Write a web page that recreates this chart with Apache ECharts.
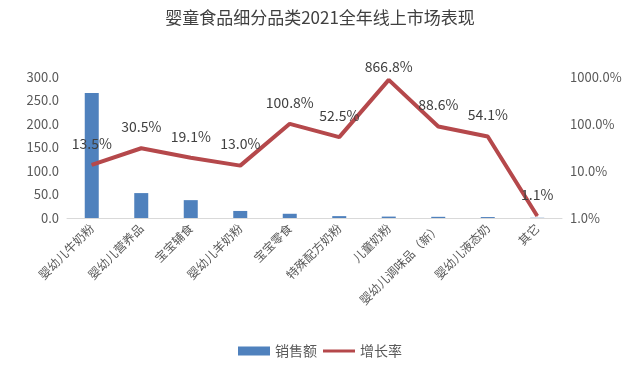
<!DOCTYPE html>
<html>
<head>
<meta charset="utf-8">
<script src="https://cdn.jsdelivr.net/npm/echarts@6/dist/echarts.min.js"></script>
<style>html,body{margin:0;padding:0;background:#fff}#c{width:640px;height:385px}</style>
</head>
<body>
<div id="c"></div>
<script>
const categories = ['婴幼儿牛奶粉','婴幼儿营养品','宝宝辅食','婴幼儿羊奶粉','宝宝零食','特殊配方奶粉','儿童奶粉','婴幼儿调味品（新）','婴幼儿液态奶','其它'];
const sales = [266, 53, 38, 15, 9, 4, 3, 2.5, 2, 0.5];
const growth = [13.5, 30.5, 19.1, 13.0, 100.8, 52.5, 866.8, 88.6, 54.1, 1.1];
const leftTicks = {min: 0, max: 300, interval: 50};
const rightTicks = {min: 1, max: 1000};

const chart = echarts.init(document.getElementById('c'));
const labelColor = '#595959';
const lineColor = '#b5484b';
const maxGrowth = Math.max(...growth);
const growthData = growth.map(v => v === maxGrowth ? {value: v, label: {distance: 6}} : v);
chart.setOption({
  animation: false,
  textStyle: {fontFamily: '"Noto Sans CJK SC", sans-serif'},
  title: {
    text: '婴童食品细分品类2021全年线上市场表现',
    left: 'center', top: 4,
    textStyle: {fontSize: 17, fontWeight: 'normal', color: '#404040', fontFamily: '"Noto Sans CJK SC", sans-serif'}
  },
  legend: {
    bottom: 22, left: 'center',
    itemWidth: 32, itemHeight: 9, itemGap: 6,
    textStyle: {fontSize: 14, color: labelColor},
    data: [
      {name: '销售额', icon: 'rect'},
      {name: '增长率', icon: 'path://M0,0 L32,0 L32,3 L0,3 Z'}
    ]
  },
  grid: {left: 67, right: 78, top: 77, bottom: 167},
  xAxis: {
    type: 'category',
    data: categories,
    axisLine: {lineStyle: {color: '#d9d9d9'}},
    axisTick: {show: false},
    axisLabel: {rotate: 45, interval: 0, color: labelColor, fontSize: 12, margin: 8}
  },
  yAxis: [
    {
      type: 'value', min: leftTicks.min, max: leftTicks.max, interval: leftTicks.interval,
      splitLine: {show: false}, axisLine: {show: false}, axisTick: {show: false},
      axisLabel: {color: labelColor, fontSize: 13, formatter: v => v.toFixed(1)}
    },
    {
      type: 'log', logBase: 10, min: rightTicks.min, max: rightTicks.max,
      splitLine: {show: false}, axisLine: {show: false}, axisTick: {show: false},
      axisLabel: {color: labelColor, fontSize: 13, formatter: v => v.toFixed(1) + '%'}
    }
  ],
  series: [
    {
      name: '销售额', type: 'bar', data: sales, barWidth: 14,
      itemStyle: {color: '#4f81bd'}
    },
    {
      name: '增长率', type: 'line', yAxisIndex: 1, data: growthData,
      symbol: 'circle', symbolSize: 1, showSymbol: true,
      lineStyle: {color: lineColor, width: 4}, itemStyle: {color: lineColor},
      label: {show: true, position: 'top', distance: 14, color: '#404040', fontSize: 14,
        formatter: p => p.value.toFixed(1) + '%'}
    }
  ]
});
</script>
</body>
</html>
